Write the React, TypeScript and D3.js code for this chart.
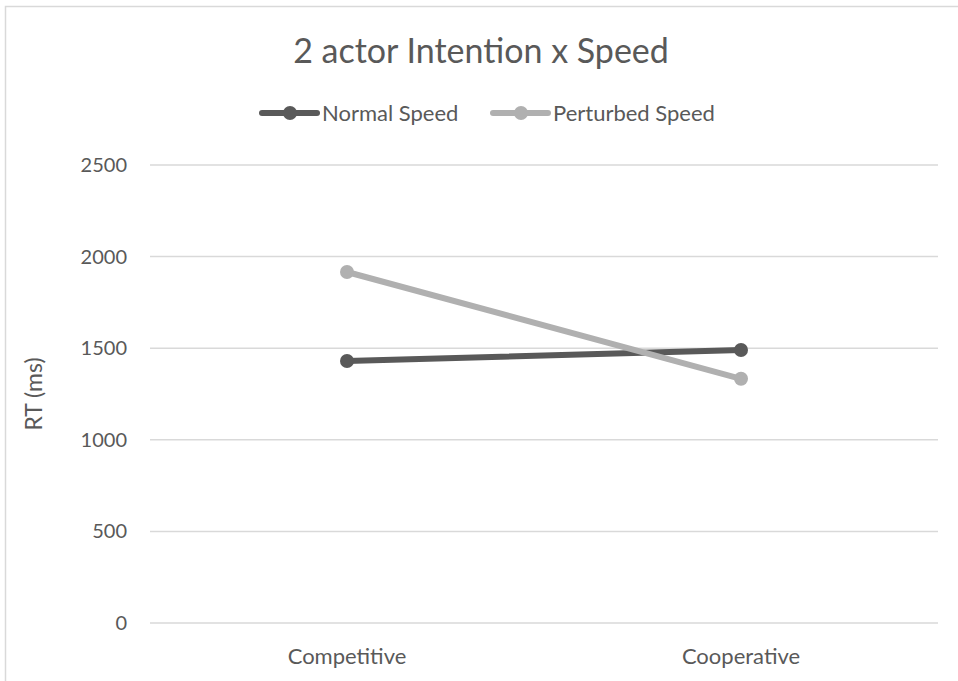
import React, { useEffect, useRef } from 'react';
import * as d3 from 'd3';

const categories = ['Competitive', 'Cooperative'];
const normalSpeed = [1430, 1490];
const perturbedSpeed = [1916, 1333];
const yTicks = [0, 500, 1000, 1500, 2000, 2500];
const seriesNames = ['Normal Speed', 'Perturbed Speed'];

const FONT = 'Lato, "Open Sans", sans-serif';
const TEXT = '#595959';
const GRID = '#d9d9d9';

function App() {
  const ref = useRef<SVGSVGElement | null>(null);

  useEffect(() => {
    const width = 958;
    const height = 681;
    const margin = { top: 165, right: 20, bottom: 58, left: 150 };

    const svg = d3.select(ref.current);
    svg.selectAll('*').remove();

    // chart frame
    svg.append('path')
      .attr('d', `M5.5,${height} V6.5 H${width}`)
      .attr('fill', 'none')
      .attr('stroke', GRID)
      .attr('stroke-width', 1.5);

    const x = d3.scaleBand()
      .domain(categories)
      .range([margin.left, width - margin.right]);

    const y = d3.scaleLinear()
      .domain([0, 2500])
      .range([height - margin.bottom, margin.top]);

    // gridlines
    svg.append('g')
      .selectAll('line')
      .data(yTicks)
      .join('line')
      .attr('x1', margin.left)
      .attr('x2', width - margin.right)
      .attr('y1', d => y(d))
      .attr('y2', d => y(d))
      .attr('stroke', GRID)
      .attr('stroke-width', 1.5);

    // y tick labels
    svg.append('g')
      .selectAll('text')
      .data(yTicks)
      .join('text')
      .attr('x', 127)
      .attr('y', d => y(d))
      .attr('dy', '0.35em')
      .attr('text-anchor', 'end')
      .attr('fill', TEXT)
      .style('font', `20px ${FONT}`)
      .text(d => d);

    // x category labels
    svg.append('g')
      .selectAll('text')
      .data(categories)
      .join('text')
      .attr('x', d => x(d)! + x.bandwidth() / 2)
      .attr('y', 656)
      .attr('dy', '0.35em')
      .attr('text-anchor', 'middle')
      .attr('fill', TEXT)
      .style('font', `22px ${FONT}`)
      .text(d => d);

    // y axis title
    svg.append('text')
      .attr('transform', `translate(34,${(y(0) + y(2500)) / 2}) rotate(-90)`)
      .attr('text-anchor', 'middle')
      .attr('dy', '0.35em')
      .attr('fill', TEXT)
      .style('font', `23px ${FONT}`)
      .text('RT (ms)');

    // chart title
    svg.append('text')
      .attr('x', 481)
      .attr('y', 63)
      .attr('text-anchor', 'middle')
      .attr('fill', TEXT)
      .style('font', `34px ${FONT}`)
      .text('2 actor Intention x Speed');

    const series = [
      { name: seriesNames[0], values: normalSpeed, color: '#595959' },
      { name: seriesNames[1], values: perturbedSpeed, color: '#b0b0b0' },
    ];

    const line = d3.line<number>()
      .x((d, i) => x(categories[i])! + x.bandwidth() / 2)
      .y(d => y(d));

    series.forEach(s => {
      const g = svg.append('g');
      g.append('path')
        .attr('d', line(s.values))
        .attr('fill', 'none')
        .attr('stroke', s.color)
        .attr('stroke-width', 6)
        .attr('stroke-linecap', 'round');
      g.selectAll('circle')
        .data(s.values)
        .join('circle')
        .attr('cx', (d, i) => x(categories[i])! + x.bandwidth() / 2)
        .attr('cy', d => y(d))
        .attr('r', 7)
        .attr('fill', s.color);
    });

    // legend
    const legendX = [262, 493];
    const legend = svg.append('g')
      .selectAll('g')
      .data(series)
      .join('g')
      .attr('transform', (d, i) => `translate(${legendX[i]},113)`);
    legend.append('line')
      .attr('x1', 0)
      .attr('x2', 55)
      .attr('stroke', d => d.color)
      .attr('stroke-width', 6)
      .attr('stroke-linecap', 'round');
    legend.append('circle')
      .attr('cx', 28)
      .attr('r', 7)
      .attr('fill', d => d.color);
    legend.append('text')
      .attr('x', 60)
      .attr('dy', '0.35em')
      .attr('fill', TEXT)
      .style('font', `22px ${FONT}`)
      .text(d => d.name);
  }, []);

  return (
    <svg
      ref={ref}
      width={958}
      height={681}
      style={{ position: 'absolute', left: 0, top: 0, background: '#fff' }}
    />
  );
}

export default App;
